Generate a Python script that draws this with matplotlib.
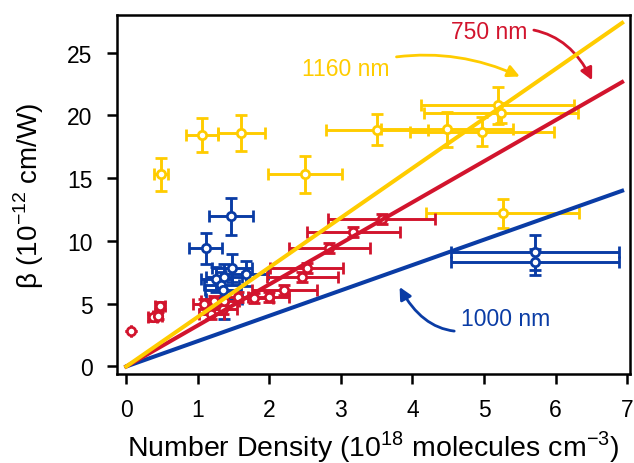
import matplotlib.pyplot as plt

plt.rcParams['font.family'] = ['Liberation Sans', 'DejaVu Sans']
plt.rcParams['mathtext.fontset'] = 'custom'
plt.rcParams['mathtext.rm'] = 'Liberation Sans'

# colores de cada longitud de onda
amarillo = '#FFCC00'
rojo = '#D2142D'
azul = '#0A3CA5'

# 1160 nm
x_1160 = [0.49, 1.06, 1.61, 2.50, 3.50, 4.48, 4.97, 5.19, 5.24, 5.26]
y_1160 = [15.3, 18.45, 18.6, 15.3, 18.85, 18.9, 18.7, 20.8, 20.2, 12.2]
xerr_1160 = [0.10, 0.22, 0.33, 0.52, 0.71, 0.92, 1.01, 1.07, 1.08, 1.07]
yerr_1160 = [1.3, 1.35, 1.43, 1.45, 1.24, 1.41, 1.15, 1.47, 0.8, 1.13]

# 1000 nm
x_1000 = [1.46, 1.11, 1.48, 1.68, 1.26, 1.37, 1.33, 1.35, 1.37, 5.71, 5.71]
y_1000 = [11.95, 9.42, 7.85, 7.4, 6.95, 7.1, 6.5, 6.1, 5.4, 9.1, 8.35]
xerr_1000 = [0.31, 0.23, 0.28, 0.30, 0.22, 0.25, 0.24, 0.25, 0.25, 1.17, 1.17]
yerr_1000 = [1.46, 1.24, 1.1, 1.0, 1.0, 1.1, 1.0, 1.0, 1.6, 1.4, 1.04]

# 750 nm
x_750 = [0.06, 0.37, 0.44, 0.47, 1.09, 1.19, 1.23, 1.35, 1.37, 1.56, 1.79,
         1.99, 2.21, 2.46, 2.52, 2.84, 3.17, 3.57]
y_750 = [2.85, 3.92, 4.05, 4.85, 4.98, 4.18, 5.24, 4.58, 5.24, 5.5, 5.43,
         5.56, 6.1, 7.1, 7.82, 9.42, 10.74, 11.75]
xerr_750 = [0.0, 0.06, 0.06, 0.07, 0.16, 0.17, 0.18, 0.2, 0.2, 0.23, 0.26,
            0.29, 0.45, 0.5, 0.51, 0.57, 0.65, 0.75]
yerr_750 = [0.0, 0.3, 0.3, 0.3, 0.4, 0.4, 0.4, 0.4, 0.4, 0.4, 0.4,
            0.4, 0.4, 0.4, 0.4, 0.4, 0.4, 0.4]

# pendientes de los ajustes lineales
pendiente = {'1160': 3.95, '750': 3.27, '1000': 2.02}
x_ajuste = [0, 6.93]

fig = plt.figure(figsize=(6.34, 4.64), dpi=100)
ax = fig.add_axes([0.1845, 0.1918, 0.8092, 0.7737])

estilo = dict(fmt='o', ms=6, mfc='white', mew=2, elinewidth=2.1,
              capsize=4, capthick=2.1, zorder=3)
ax.errorbar(x_1160, y_1160, xerr=xerr_1160, yerr=yerr_1160, color=amarillo, **estilo)
ax.errorbar(x_1000, y_1000, xerr=xerr_1000, yerr=yerr_1000, color=azul, **estilo)
ax.errorbar(x_750, y_750, xerr=xerr_750, yerr=yerr_750, color=rojo, **estilo)

ax.plot(x_ajuste, [pendiente['1000'] * v for v in x_ajuste], color=azul, lw=2.9, zorder=4)
ax.plot(x_ajuste, [pendiente['750'] * v for v in x_ajuste], color=rojo, lw=2.9, zorder=4)
ax.plot(x_ajuste, [pendiente['1160'] * v for v in x_ajuste], color=amarillo, lw=2.9, zorder=4)

# etiquetas con flechas
ax.annotate('750 nm', xy=(6.51, 22.8), xytext=(5.60, 26.65), color=rojo,
            fontsize=16.5, ha='right', va='center',
            arrowprops=dict(arrowstyle='-|>', color=rojo, lw=2, mutation_scale=18,
                            shrinkA=3, shrinkB=0, connectionstyle='arc3,rad=-0.4'))
ax.annotate('1160 nm', xy=(5.50, 23.1), xytext=(3.68, 23.7), color=amarillo,
            fontsize=16.5, ha='right', va='center',
            arrowprops=dict(arrowstyle='-|>', color=amarillo, lw=2, mutation_scale=18,
                            shrinkA=3, shrinkB=0, connectionstyle='arc3,rad=-0.2'))
ax.annotate('1000 nm', xy=(3.82, 6.33), xytext=(4.68, 3.84), color=azul,
            fontsize=16.5, ha='left', va='center',
            arrowprops=dict(arrowstyle='-|>', color=azul, lw=2, mutation_scale=18,
                            shrinkA=3, shrinkB=0, connectionstyle='arc3,rad=-0.5'))

ax.set_xlim(-0.13, 7.04)
ax.set_ylim(-0.6, 28.0)
ax.set_xticks(range(0, 8))
ax.set_yticks([0, 5, 10, 15, 20, 25])
ax.tick_params(direction='out', length=7.5, width=1.8, labelsize=16.5, pad=10)
for s in ax.spines.values():
    s.set_linewidth(1.8)

ax.set_xlabel('Number Density (10$^{18}$ molecules cm$^{-3}$)', fontsize=20.5, labelpad=5)
ax.set_ylabel('β (10$^{-12}$ cm/W)', fontsize=20, labelpad=15)

plt.savefig('out.png', dpi=100)
